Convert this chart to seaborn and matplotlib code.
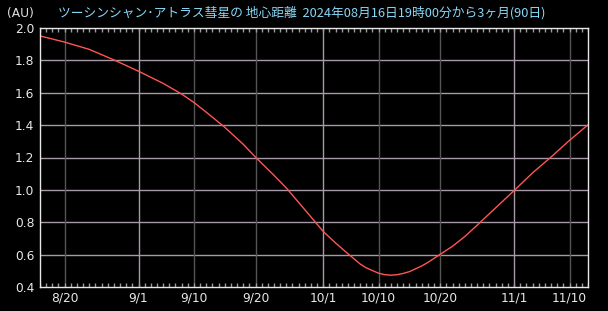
import matplotlib
matplotlib.use("Agg")
import matplotlib.pyplot as plt
from matplotlib.ticker import FixedLocator
import seaborn as sns
import pandas as pd
import numpy as np

# ---- data ----
start_time = "2024-08-16 19:00"
day_offsets = [0, 4, 8, 12, 16, 20, 23, 25, 27, 30, 33, 35, 38, 40, 43, 45, 46, 48,
               50, 52, 53, 55, 56, 57, 58, 59, 60, 62, 63, 65, 67, 69, 71, 74, 77,
               80, 83, 86, 89]
distance_au = [1.951, 1.913, 1.868, 1.803, 1.733, 1.658, 1.592, 1.540, 1.480, 1.387,
               1.282, 1.202, 1.090, 1.012, 0.878, 0.788, 0.743, 0.672, 0.606, 0.542,
               0.518, 0.485, 0.476, 0.473, 0.476, 0.484, 0.495, 0.530, 0.552, 0.602,
               0.652, 0.712, 0.782, 0.889, 0.996, 1.105, 1.203, 1.306, 1.402]
tick_dates = ["2024-08-20", "2024-09-01", "2024-09-10", "2024-09-20", "2024-10-01",
              "2024-10-10", "2024-10-20", "2024-11-01", "2024-11-10"]
tick_labels = ["8/20", "9/1", "9/10", "9/20", "10/1", "10/10", "10/20", "11/1", "11/10"]
y_ticks = [0.4, 0.6, 0.8, 1.0, 1.2, 1.4, 1.6, 1.8, 2.0]
n_days = 90
title_text = "ツーシンシャン･アトラス彗星の 地心距離  2024年08月16日19時00分から3ヶ月(90日)"
unit_text = "(AU)"

df = pd.DataFrame({"day": day_offsets, "dist": distance_au})

sns.set_theme(style="ticks", rc={
    "axes.facecolor": "black",
    "figure.facecolor": "black",
    "axes.edgecolor": "#e8e8e8",
    "axes.linewidth": 1.0,
    "xtick.major.size": 0,
    "xtick.labelcolor": "#e8e8e8",
    "ytick.major.size": 0,
    "ytick.labelcolor": "#e8e8e8",
    "ytick.left": False,
})
plt.rcParams["font.family"] = ["Noto Sans CJK JP", "DejaVu Sans"]

fig = plt.figure(figsize=(6.08, 3.11), dpi=100, facecolor="black")
ax = fig.add_axes([40 / 608, 1 - 287 / 311, 548 / 608, 259 / 311])
ax.set_facecolor("black")

t0 = pd.Timestamp(start_time)
tick_pos = [round((pd.Timestamp(d) + pd.Timedelta(hours=19) - t0) / pd.Timedelta(days=1))
            for d in tick_dates]

# grid lines
for v in y_ticks[1:-1]:
    ax.axhline(v, color="#a898a8", lw=1, zorder=1)
for d, p in zip(tick_dates, tick_pos):
    is_month_start = pd.Timestamp(d).day == 1
    ax.axvline(p, color="#a898a8" if is_month_start else "#555555", lw=1, zorder=1)

# daily tick marks along top and bottom edges (inward)
day_ticks = np.arange(n_days)
xtr = ax.get_xaxis_transform()
ax.vlines(day_ticks, 0, 0.016, transform=xtr, color="#9a9a9a", lw=1, zorder=2)
ax.vlines(day_ticks, 0.984, 1, transform=xtr, color="#9a9a9a", lw=1, zorder=2)

sns.lineplot(data=df, x="day", y="dist", ax=ax, color="#ff5555", lw=1, zorder=3)

ax.set_xlim(0, n_days - 1)
ax.set_ylim(0.4, 2.0)
ax.xaxis.set_major_locator(FixedLocator(tick_pos))
ax.set_xticklabels(tick_labels)
ax.yaxis.set_major_locator(FixedLocator(y_ticks))
ax.set_yticklabels([f"{v:.1f}" for v in y_ticks])
ax.set_xlabel("")
ax.set_ylabel("")

ax.tick_params(axis="both", which="major", length=0, labelsize=8.8,
               labelfontfamily="DejaVu Sans")
ax.tick_params(axis="x", which="major", pad=3)
ax.tick_params(axis="y", which="major", pad=4)

for s in ax.spines.values():
    s.set_visible(True)
    s.set_color("#e8e8e8")
    s.set_linewidth(1)
    s.set_zorder(4)

fig.text(7 / 608, 1 - 13 / 311, unit_text, color="#e0e0e0", fontsize=8.8,
         va="center", ha="left", family="DejaVu Sans")
fig.text(58 / 608, 1 - 13 / 311, title_text, color="#88d8f8", fontsize=9.2,
         va="center", ha="left")

fig.savefig("out.png", dpi=100, facecolor="black")
